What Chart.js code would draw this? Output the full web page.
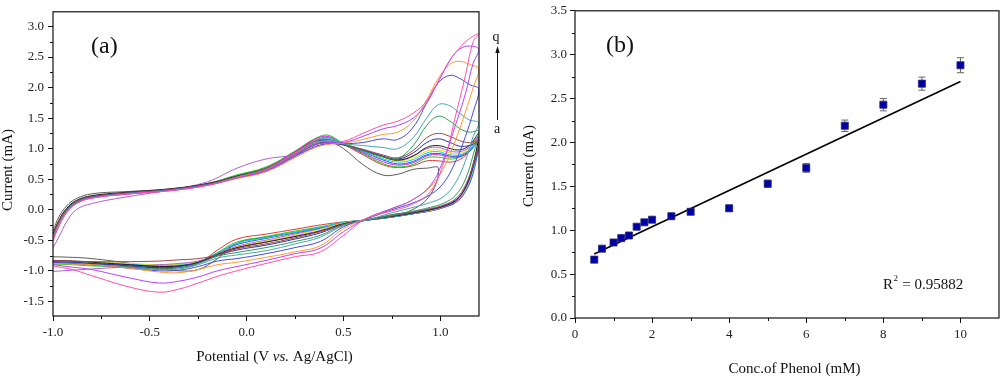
<!DOCTYPE html>
<html><head><meta charset="utf-8">
<script src="https://cdn.jsdelivr.net/npm/chart.js@4.4.0/dist/chart.umd.min.js"></script>
<style>
html,body{margin:0;padding:0;background:#fff;}
#wrap{position:relative;width:1000px;height:378px;overflow:hidden;}
.pane{position:absolute;top:0;width:500px;height:378px;}
canvas{display:block;}
</style></head><body>
<div id="wrap">
<div class="pane" style="left:0"><canvas id="cA" width="500" height="378"></canvas></div>
<div class="pane" style="left:500px"><canvas id="cB" width="500" height="378"></canvas></div>
</div>
<script>
// ---------- Panel (a): cyclic voltammograms ----------
const potentialForward = [-1.0,-0.97,-0.93,-0.88,-0.8,-0.6,-0.4,-0.2,-0.05,0.1,0.25,0.35,0.42,0.5,0.6,0.7,0.78,0.86,0.93,0.99,1.05,1.1,1.15,1.2];
const potentialReverse = [1.17,1.13,1.08,1.02,0.95,0.85,0.75,0.62,0.5,0.38,0.25,0.1,-0.05,-0.15,-0.25,-0.35,-0.45,-0.6,-0.8,-0.9,-1.0];

const fwdA = [-0.35,-0.12,0.06,0.18,0.26,0.3,0.34,0.42,0.55,0.68,0.95,1.12,1.12,1.0,0.74,0.57,0.58,0.66,0.68,0.68,null,null,null,null];
const fwdB = [-0.4,-0.18,0.02,0.14,0.22,0.28,0.33,0.43,0.56,0.69,0.94,1.13,1.18,1.07,0.9,0.74,0.69,0.72,0.8,0.8,0.78,0.82,0.95,1.18];
const fwdC = [-0.42,-0.2,0.0,0.13,0.21,0.28,0.33,0.43,0.57,0.7,0.96,1.16,1.22,1.08,0.92,0.76,0.7,0.74,0.85,0.86,0.83,0.86,0.98,1.22];
const fwdD = [-0.44,-0.21,0.0,0.13,0.21,0.28,0.33,0.42,0.55,0.68,0.95,1.15,1.2,1.07,0.93,0.79,0.73,0.77,0.88,0.9,0.86,0.88,0.98,1.2];
const fwdE = [-0.45,-0.22,-0.01,0.12,0.2,0.27,0.32,0.41,0.53,0.66,0.9,1.1,1.15,1.07,0.95,0.82,0.75,0.79,0.9,0.92,0.88,0.87,0.95,1.12];
const fwdF = [-0.43,-0.2,0.0,0.13,0.21,0.28,0.33,0.42,0.55,0.67,0.92,1.12,1.17,1.08,0.96,0.84,0.78,0.82,0.93,0.95,0.9,0.9,0.98,1.15];
const fwdG = [-0.42,-0.2,0.0,0.13,0.21,0.28,0.32,0.41,0.52,0.64,0.88,1.06,1.12,1.06,0.97,0.86,0.8,0.85,0.96,0.98,0.93,0.92,1.0,1.18];
const fwdH = [-0.62,-0.45,-0.2,0.0,0.1,0.22,0.32,0.46,0.68,0.83,0.9,1.02,1.08,1.06,0.98,0.88,0.82,0.88,1.0,1.02,0.96,0.95,1.02,1.2];
const fwdI = [-0.4,-0.18,0.02,0.15,0.23,0.29,0.34,0.43,0.55,0.67,0.9,1.06,1.1,1.06,0.97,0.87,0.81,0.88,1.02,1.05,1.0,0.98,1.05,1.25];
const fwdJ = [-0.44,-0.21,0.0,0.13,0.21,0.28,0.33,0.42,0.53,0.65,0.89,1.06,1.1,1.07,0.98,0.88,0.83,0.93,1.1,1.16,1.1,1.04,1.05,1.1];
const fwdK = [-0.43,-0.2,0.0,0.13,0.21,0.28,0.33,0.42,0.54,0.66,0.9,1.08,1.12,1.07,0.99,0.9,0.85,0.97,1.18,1.25,1.2,1.13,1.1,1.12];
const fwdL = [-0.45,-0.22,-0.01,0.12,0.2,0.27,0.32,0.41,0.54,0.67,0.92,1.12,1.15,1.07,0.97,0.87,0.84,1.05,1.38,1.53,1.45,1.33,1.27,1.28];
const fwdM = [-0.46,-0.23,-0.02,0.12,0.2,0.27,0.32,0.41,0.53,0.65,0.9,1.08,1.13,1.08,1.05,1.02,1.0,1.18,1.5,1.72,1.7,1.58,1.47,1.42];
const fwdN = [-0.47,-0.24,-0.03,0.11,0.2,0.27,0.32,0.41,0.52,0.63,0.87,1.03,1.08,1.08,1.1,1.16,1.15,1.35,1.75,2.08,2.2,2.15,2.05,1.97];
const fwdO = [-0.48,-0.25,-0.04,0.1,0.19,0.26,0.31,0.4,0.51,0.62,0.85,1.01,1.07,1.09,1.15,1.23,1.27,1.45,1.8,2.15,2.38,2.43,2.38,2.3];
const fwdP = [-0.5,-0.27,-0.05,0.1,0.19,0.26,0.31,0.4,0.52,0.64,0.89,1.06,1.1,1.1,1.2,1.32,1.38,1.5,1.75,2.1,2.45,2.63,2.68,2.62];
const fwdQ = [-0.5,-0.27,-0.05,0.1,0.19,0.26,0.31,0.4,0.53,0.66,0.92,1.1,1.12,1.12,1.25,1.38,1.45,1.58,1.78,2.1,2.45,2.65,2.8,2.88];

const revA = [null,null,null,null,0.25,-0.01,-0.08,-0.16,-0.22,-0.29,-0.37,-0.45,-0.55,-0.8,-0.98,-1.0,-0.96,-0.88,-0.8,-0.78,-0.77];
const revB = [0.65,0.3,0.12,0.04,-0.02,-0.07,-0.12,-0.17,-0.2,-0.25,-0.32,-0.4,-0.48,-0.66,-0.88,-0.95,-0.96,-0.94,-0.9,-0.88,-0.86];
const revC = [0.7,0.33,0.13,0.05,-0.01,-0.07,-0.12,-0.17,-0.21,-0.28,-0.35,-0.44,-0.53,-0.7,-0.86,-0.93,-0.95,-0.93,-0.92,-0.9,-0.89];
const revD = [0.68,0.33,0.13,0.05,-0.01,-0.07,-0.12,-0.17,-0.22,-0.31,-0.4,-0.5,-0.6,-0.72,-0.85,-0.9,-0.92,-0.9,-0.88,-0.86,-0.85];
const revE = [0.6,0.3,0.12,0.04,-0.02,-0.07,-0.12,-0.17,-0.21,-0.3,-0.38,-0.47,-0.57,-0.71,-0.86,-0.92,-0.93,-0.91,-0.88,-0.86,-0.84];
const revF = [0.65,0.32,0.13,0.05,-0.01,-0.07,-0.12,-0.17,-0.21,-0.29,-0.37,-0.46,-0.55,-0.71,-0.85,-0.9,-0.91,-0.89,-0.86,-0.85,-0.84];
const revG = [0.68,0.33,0.14,0.05,-0.01,-0.06,-0.11,-0.17,-0.22,-0.32,-0.41,-0.51,-0.61,-0.73,-0.85,-0.89,-0.9,-0.88,-0.86,-0.85,-0.84];
const revH = [0.7,0.35,0.14,0.05,0.0,-0.06,-0.11,-0.17,-0.23,-0.34,-0.43,-0.53,-0.63,-0.74,-0.84,-0.88,-0.9,-0.93,-0.97,-0.99,-1.01];
const revI = [0.75,0.37,0.15,0.06,0.0,-0.06,-0.11,-0.17,-0.23,-0.35,-0.44,-0.53,-0.62,-0.73,-0.86,-0.92,-0.93,-0.9,-0.86,-0.84,-0.83];
const revJ = [0.7,0.36,0.16,0.07,0.01,-0.05,-0.1,-0.17,-0.24,-0.38,-0.48,-0.58,-0.66,-0.75,-0.87,-0.93,-0.95,-0.92,-0.88,-0.86,-0.85];
const revK = [0.75,0.4,0.18,0.08,0.02,-0.04,-0.1,-0.17,-0.24,-0.36,-0.46,-0.56,-0.64,-0.74,-0.8,-0.82,-0.84,-0.85,-0.85,-0.84,-0.83];
const revL = [0.9,0.5,0.24,0.11,0.04,-0.03,-0.09,-0.17,-0.25,-0.42,-0.52,-0.62,-0.7,-0.76,-0.88,-0.95,-0.97,-0.94,-0.9,-0.88,-0.87];
const revM = [1.2,0.8,0.45,0.22,0.12,0.03,-0.05,-0.17,-0.26,-0.45,-0.56,-0.67,-0.74,-0.79,-0.9,-0.97,-0.98,-0.95,-0.9,-0.88,-0.87];
const revN = [1.6,1.2,0.8,0.45,0.25,0.1,0.0,-0.15,-0.28,-0.52,-0.62,-0.72,-0.8,-0.84,-0.93,-0.99,-1.0,-0.96,-0.9,-0.88,-0.86];
const revO = [2.0,1.6,1.15,0.7,0.38,0.15,0.02,-0.14,-0.31,-0.59,-0.69,-0.78,-0.86,-0.9,-0.98,-1.03,-1.02,-0.96,-0.9,-0.89,-0.88];
const revP = [2.4,1.9,1.4,0.85,0.4,0.15,0.02,-0.14,-0.36,-0.63,-0.72,-0.83,-0.93,-1.0,-1.1,-1.17,-1.2,-1.12,-0.98,-0.94,-0.9];
const revQ = [2.75,2.2,1.55,0.8,0.3,0.08,-0.02,-0.14,-0.42,-0.69,-0.77,-0.88,-1.0,-1.09,-1.2,-1.3,-1.35,-1.27,-1.08,-0.98,-0.92];

const curveLabels = ['a','b','c','d','e','f','g','h','i','j','k','l','m','n','o','p','q'];
const curveColors = ['#5a5a5a','#e03a3a','#10d010','#e020e0','#2a4cff','#10d0ee','#e4e400','#b060d0','#202020','#3030a8','#a04848','#2e9a55','#45a8a8','#4a4ae0','#ff9a30','#b045ff','#ff4fa8'];
const forwardCurrents = [fwdA,fwdB,fwdC,fwdD,fwdE,fwdF,fwdG,fwdH,fwdI,fwdJ,fwdK,fwdL,fwdM,fwdN,fwdO,fwdP,fwdQ];
const reverseCurrents = [revA,revB,revC,revD,revE,revF,revG,revH,revI,revJ,revK,revL,revM,revN,revO,revP,revQ];

const aXMinor = [-0.75,-0.25,0.25,0.75];
const aYMinor = [-1.25,-0.75,-0.25,0.25,0.75,1.25,1.75,2.25,2.75];

// ---------- Panel (b): calibration ----------
const phenolConc = [0.5,0.7,1.0,1.2,1.4,1.6,1.8,2.0,2.5,3.0,4.0,5.0,6.0,7.0,8.0,9.0,10.0];
const peakCurrent = [0.665,0.79,0.86,0.91,0.94,1.04,1.09,1.12,1.16,1.21,1.25,1.53,1.71,2.19,2.43,2.67,2.88];
const currentError = [0.02,0.02,0.02,0.02,0.02,0.025,0.025,0.03,0.03,0.03,0.035,0.04,0.05,0.065,0.07,0.075,0.085];
const fitConc = [0.5,10.0];
const fitCurrent = [0.73,2.695];
const bXMinor = [1,3,5,7,9];
const bYMinor = [0.25,0.75,1.25,1.75,2.25,2.75,3.25];

const SERIF = '"Liberation Serif", "Times New Roman", serif';
const tickFont = {family: SERIF, size: 13};

function drawParts(ctx, parts, cx, cy) {
  let total = 0;
  parts.forEach(p => { ctx.font = p.font; p.w = ctx.measureText(p.t).width; total += p.w; });
  let x = cx - total / 2;
  ctx.textBaseline = 'middle'; ctx.textAlign = 'left';
  parts.forEach(p => { ctx.font = p.font; ctx.fillText(p.t, x, cy); x += p.w; });
}
function drawRotated(ctx, text, font, cx, cy) {
  ctx.save(); ctx.translate(cx, cy); ctx.rotate(-Math.PI / 2);
  ctx.font = font; ctx.textAlign = 'center'; ctx.textBaseline = 'middle';
  ctx.fillText(text, 0, 0); ctx.restore();
}
function drawFrameAndMinor(chart, xMinor, yMinor) {
  const {ctx, chartArea: ca, scales} = chart;
  ctx.save();
  ctx.strokeStyle = '#111'; ctx.lineWidth = 1.2;
  ctx.strokeRect(ca.left, ca.top, ca.right - ca.left, ca.bottom - ca.top);
  ctx.lineWidth = 1;
  xMinor.forEach(v => {
    const px = Math.round(scales.x.getPixelForValue(v)) + 0.5;
    ctx.beginPath(); ctx.moveTo(px, ca.bottom); ctx.lineTo(px, ca.bottom + 3); ctx.stroke();
  });
  yMinor.forEach(v => {
    const py = Math.round(scales.y.getPixelForValue(v)) + 0.5;
    ctx.beginPath(); ctx.moveTo(ca.left, py); ctx.lineTo(ca.left - 3, py); ctx.stroke();
  });
  ctx.restore();
}

const panelAPlugin = {
  id: 'panelA',
  afterDraw(chart) {
    const ctx = chart.ctx;
    drawFrameAndMinor(chart, aXMinor, aYMinor);
    ctx.save();
    ctx.fillStyle = '#111';
    drawParts(ctx, [
      {t: 'Potential (V ', font: '15px ' + SERIF},
      {t: 'vs.', font: 'italic 15px ' + SERIF},
      {t: ' Ag/AgCl)', font: '15px ' + SERIF}
    ], 274.5, 357);
    drawRotated(ctx, 'Current (mA)', '15px ' + SERIF, 8, 170);
    ctx.font = '24px ' + SERIF; ctx.textAlign = 'left'; ctx.textBaseline = 'middle';
    ctx.fillText('(a)', 91, 47);
    ctx.strokeStyle = '#111'; ctx.lineWidth = 1;
    ctx.beginPath(); ctx.moveTo(497.5, 120); ctx.lineTo(497.5, 52); ctx.stroke();
    ctx.beginPath(); ctx.moveTo(497.5, 46); ctx.lineTo(495.3, 53); ctx.lineTo(499.7, 53); ctx.closePath(); ctx.fill();
    ctx.font = '14px ' + SERIF; ctx.textAlign = 'center'; ctx.textBaseline = 'alphabetic';
    ctx.fillText('q', 496, 41);
    ctx.fillText('a', 497, 133);
    ctx.restore();
  }
};

const panelBPlugin = {
  id: 'panelB',
  beforeDatasetsDraw(chart) {
    const {ctx, scales} = chart;
    ctx.save();
    ctx.strokeStyle = '#666'; ctx.lineWidth = 1;
    phenolConc.forEach((c, i) => {
      const px = scales.x.getPixelForValue(c);
      const y1 = scales.y.getPixelForValue(peakCurrent[i] + currentError[i]);
      const y2 = scales.y.getPixelForValue(peakCurrent[i] - currentError[i]);
      ctx.beginPath();
      ctx.moveTo(px, y1); ctx.lineTo(px, y2);
      ctx.moveTo(px - 3.5, y1); ctx.lineTo(px + 3.5, y1);
      ctx.moveTo(px - 3.5, y2); ctx.lineTo(px + 3.5, y2);
      ctx.stroke();
    });
    ctx.restore();
  },
  afterDraw(chart) {
    const ctx = chart.ctx;
    drawFrameAndMinor(chart, bXMinor, bYMinor);
    ctx.save();
    ctx.fillStyle = '#111';
    drawParts(ctx, [{t: 'Conc.of Phenol (mM)', font: '15px ' + SERIF}], 294.5, 369);
    drawRotated(ctx, 'Current (mA)', '15px ' + SERIF, 29, 166);
    ctx.font = '24px ' + SERIF; ctx.textAlign = 'left'; ctx.textBaseline = 'middle';
    ctx.fillText('(b)', 106, 46);
    ctx.textBaseline = 'alphabetic';
    ctx.font = '15px ' + SERIF;
    ctx.fillText('R', 383, 289);
    const rw = ctx.measureText('R').width;
    ctx.font = '9px ' + SERIF;
    ctx.fillText('2', 383 + rw + 0.5, 281);
    const sw = ctx.measureText('2').width;
    ctx.font = '15px ' + SERIF;
    ctx.fillText(' = 0.95882', 383 + rw + sw + 1, 289);
    ctx.restore();
  }
};

function axisCommon(extra) {
  return Object.assign({
    type: 'linear',
    grid: {drawOnChartArea: false, drawTicks: true, tickLength: 5, color: '#111', lineWidth: 1},
    border: {display: false}
  }, extra);
}

// ---- Chart A ----
const cvDatasets = curveLabels.map((lab, k) => {
  const pts = potentialForward.map((x, i) => ({x: x, y: forwardCurrents[k][i]}))
    .concat(potentialReverse.map((x, i) => ({x: x, y: reverseCurrents[k][i]})));
  return {
    label: lab, data: pts, showLine: true, borderColor: curveColors[k], backgroundColor: curveColors[k],
    borderWidth: 1, pointRadius: 0, tension: 0.4, spanGaps: true, fill: false
  };
}).reverse();

new Chart(document.getElementById('cA'), {
  type: 'scatter',
  data: {datasets: cvDatasets},
  options: {
    responsive: false, animation: false, events: [],
    layout: {padding: {left: 0, right: 21, top: 3, bottom: 0}, autoPadding: false},
    plugins: {legend: {display: false}, tooltip: {enabled: false}},
    scales: {
      x: axisCommon({
        min: -1.0, max: 1.2,
        afterFit: s => { s.height = 62; },
        ticks: {stepSize: 0.5, includeBounds: false, callback: v => Number(v).toFixed(1), font: tickFont, color: '#222', padding: 4, maxRotation: 0, autoSkip: false}
      }),
      y: axisCommon({
        min: -1.74, max: 3.24,
        afterFit: s => { s.width = 53; },
        ticks: {stepSize: 0.5, includeBounds: false, callback: v => Number(v).toFixed(1), font: tickFont, color: '#222', padding: 4, autoSkip: false}
      })
    }
  },
  plugins: [panelAPlugin]
});

// ---- Chart B ----
new Chart(document.getElementById('cB'), {
  type: 'scatter',
  data: {datasets: [
    {label: 'Current', data: phenolConc.map((c, i) => ({x: c, y: peakCurrent[i]})),
     pointStyle: 'rect', pointRadius: 5, backgroundColor: '#0000a8', borderColor: '#2a2a70', borderWidth: 0.8, showLine: false},
    {label: 'Fit', data: fitConc.map((c, i) => ({x: c, y: fitCurrent[i]})),
     showLine: true, pointRadius: 0, borderColor: '#000', borderWidth: 1.6, tension: 0}
  ]},
  options: {
    responsive: false, animation: false, events: [],
    layout: {padding: {left: 0, right: 1, top: 5, bottom: 0}, autoPadding: false},
    plugins: {legend: {display: false}, tooltip: {enabled: false}},
    scales: {
      x: axisCommon({
        min: 0, max: 11,
        afterFit: s => { s.height = 60; },
        ticks: {stepSize: 2, includeBounds: false, callback: v => String(Math.round(v)), font: tickFont, color: '#222', padding: 4, maxRotation: 0, autoSkip: false}
      }),
      y: axisCommon({
        min: 0, max: 3.5,
        afterFit: s => { s.width = 75; },
        ticks: {stepSize: 0.5, includeBounds: false, callback: v => Number(v).toFixed(1), font: tickFont, color: '#222', padding: 3, autoSkip: false}
      })
    }
  },
  plugins: [panelBPlugin]
});
</script>
</body></html>
